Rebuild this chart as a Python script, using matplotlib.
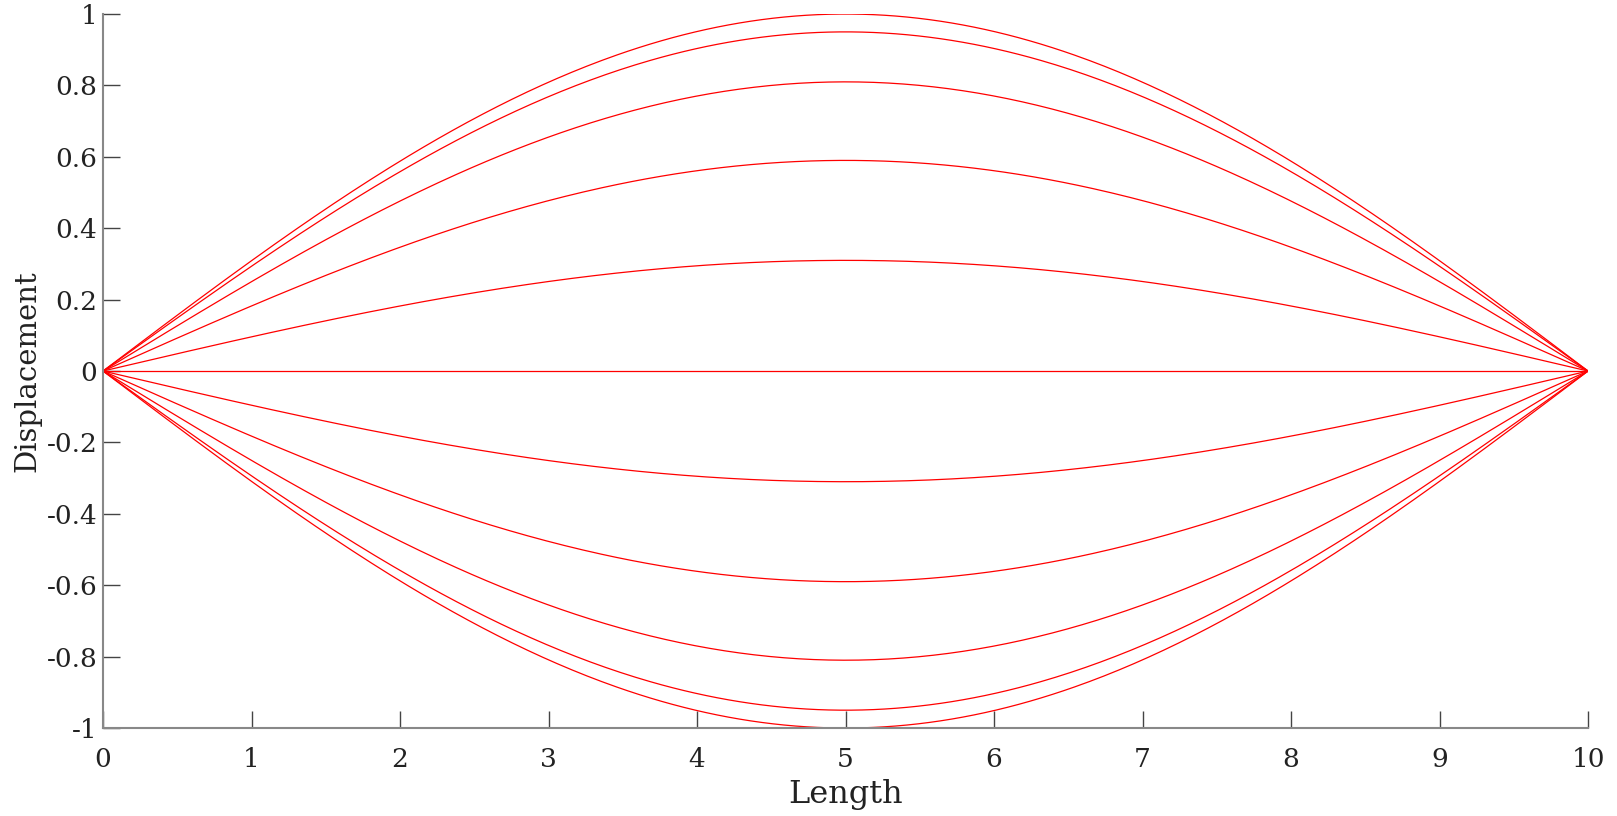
import numpy as np
import matplotlib
matplotlib.use("Agg")
import matplotlib.pyplot as plt

# Amplitudes of the standing-wave snapshots (read from peak at x=5)
amplitudes = [1.0, 0.95, 0.81, 0.59, 0.31, 0.0, -0.31, -0.59, -0.81, -0.95, -1.0]
string_length = 10
xticks = list(range(0, 11))
yticks = [-1, -0.8, -0.6, -0.4, -0.2, 0, 0.2, 0.4, 0.6, 0.8, 1]
ytick_labels = ["-1", "-0.8", "-0.6", "-0.4", "-0.2", "0", "0.2", "0.4", "0.6", "0.8", "1"]

plt.rcParams['font.family'] = ['DejaVu Serif']

fig = plt.figure(figsize=(16.17, 8.16), dpi=100)
ax = fig.add_axes([0.0637, 0.1078, 0.9821 - 0.0637, 0.9828 - 0.1078])

x = np.linspace(0, string_length, 400)
shape = np.sin(np.pi * x / string_length)
for a in amplitudes:
    ax.plot(x, a * shape, color='#ff0000', linewidth=0.9)

ax.set_xlim(0, 10)
ax.set_ylim(-1, 1)
ax.set_xticks(xticks)
ax.set_xticklabels([str(t) for t in xticks])
ax.set_yticks(yticks)
ax.set_yticklabels(ytick_labels)

for s in ['top', 'right']:
    ax.spines[s].set_visible(False)
for s in ['left', 'bottom']:
    ax.spines[s].set_color('#888888')
    ax.spines[s].set_linewidth(1.5)

ax.tick_params(axis='both', direction='in', length=12, width=1.0, color='#444444',
               labelsize=19, labelcolor='#222222')
ax.tick_params(axis='y', pad=4)
ax.tick_params(axis='x', pad=14)

ax.set_xlabel('Length', fontsize=23, color='#222222', labelpad=5)
ax.set_ylabel('Displacement', fontsize=21, color='#222222', labelpad=4)

fig.savefig('out.png', dpi=100, facecolor='white')
